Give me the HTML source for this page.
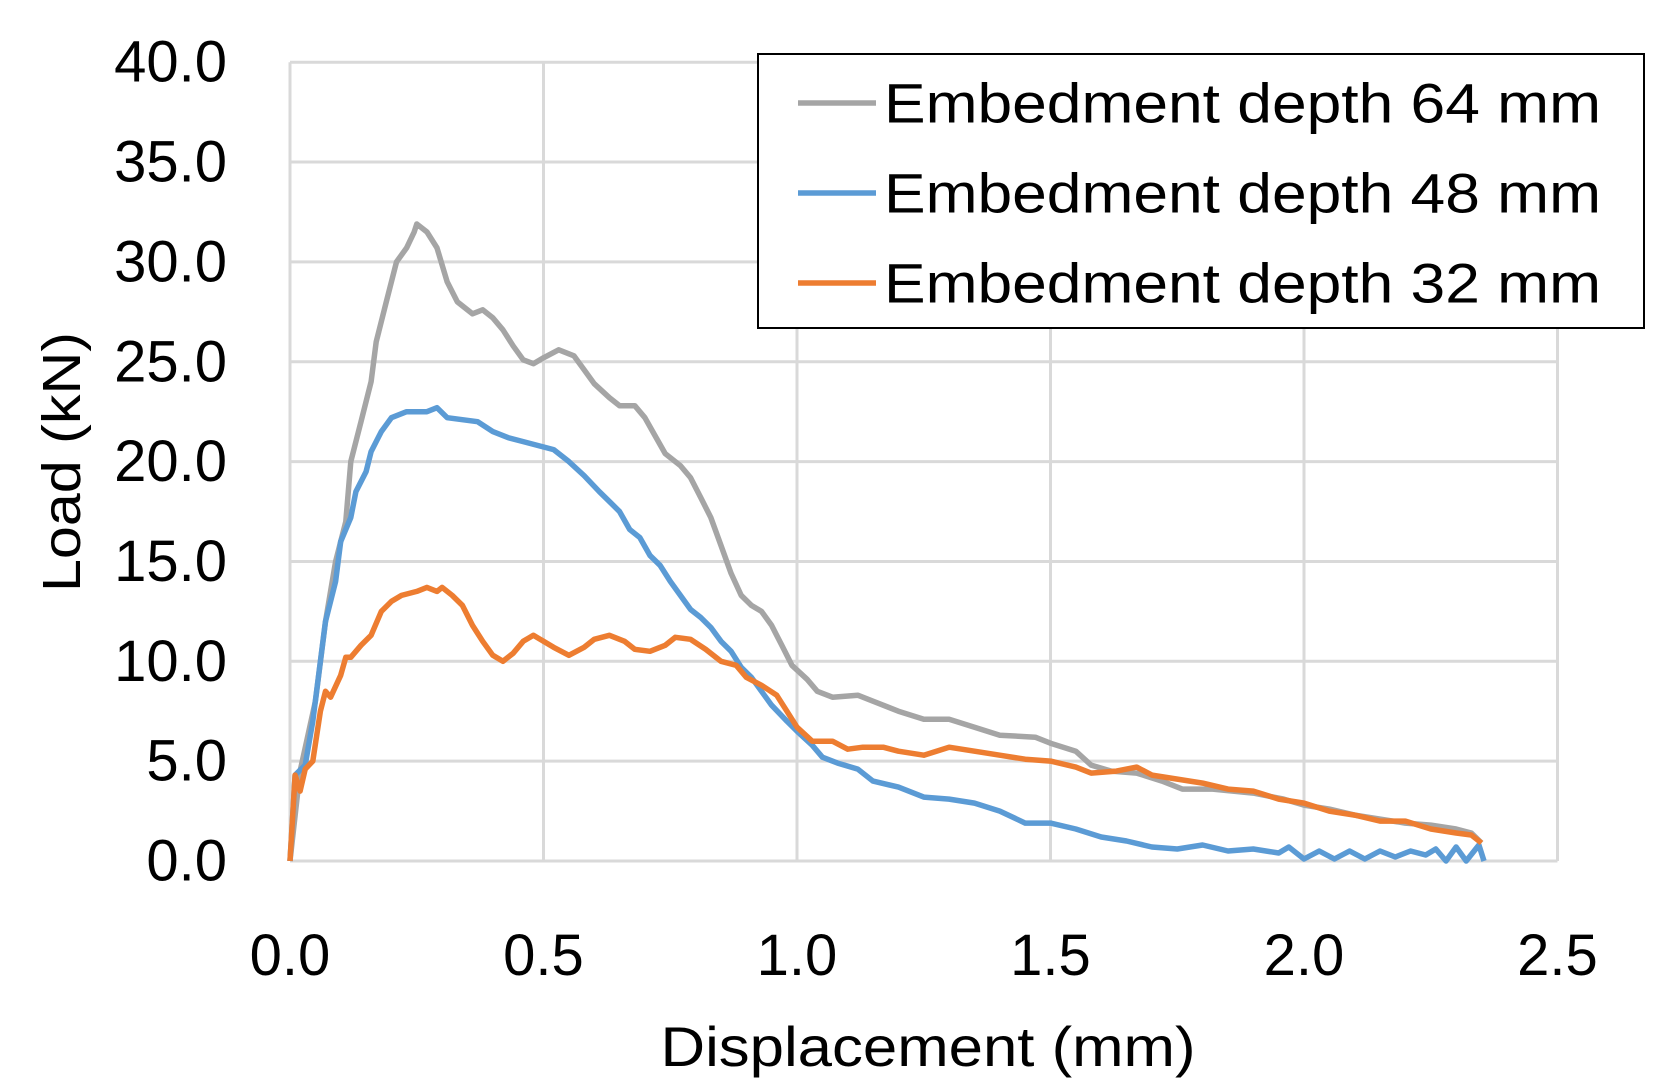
<!DOCTYPE html>
<html><head><meta charset="utf-8"><style>html,body{margin:0;padding:0;background:#fff}svg{display:block}</style></head>
<body>
<svg id="s" width="1665" height="1092" viewBox="0 0 1665 1092" xmlns="http://www.w3.org/2000/svg" font-family="'Liberation Sans', sans-serif">
<g id="grid" stroke="#d9d9d9" stroke-width="3" fill="none"></g>
<g id="ticks" font-size="58" fill="#000"></g>
<g id="series" fill="none" stroke-width="5.5" stroke-linejoin="round"></g>
<rect x="758" y="54" width="886" height="274" fill="#fff" stroke="#000" stroke-width="2"/>
<line x1="798" y1="103" x2="876" y2="103" stroke="#a5a5a5" stroke-width="5.5"/>
<line x1="798" y1="193" x2="876" y2="193" stroke="#5b9bd5" stroke-width="5.5"/>
<line x1="798" y1="283" x2="876" y2="283" stroke="#ed7d31" stroke-width="5.5"/>
<g font-size="56" dominant-baseline="central">
<text x="884" y="103" textLength="717" lengthAdjust="spacingAndGlyphs">Embedment depth 64 mm</text>
<text x="884" y="193" textLength="717" lengthAdjust="spacingAndGlyphs">Embedment depth 48 mm</text>
<text x="884" y="283" textLength="717" lengthAdjust="spacingAndGlyphs">Embedment depth 32 mm</text>
</g>
<text x="928" y="1066" font-size="56" text-anchor="middle" textLength="535" lengthAdjust="spacingAndGlyphs">Displacement (mm)</text>
<text transform="translate(62,462) rotate(-90)" font-size="54" text-anchor="middle" dominant-baseline="central" textLength="260" lengthAdjust="spacingAndGlyphs">Load (kN)</text>
</svg>
<script>
var X0=290,XS=507,Y0=861,YS=19.97;
function px(x){return X0+x*XS}function py(y){return Y0-y*YS}
var g=document.getElementById('grid'),t=document.getElementById('ticks'),ns='http://www.w3.org/2000/svg';
function el(p,n,a){var e=document.createElementNS(ns,n);for(var k in a)e.setAttribute(k,a[k]);p.appendChild(e);return e}
for(var i=0;i<=8;i++){var y=py(i*5);el(g,'line',{x1:X0,x2:px(2.5),y1:y,y2:y});var tx=el(t,'text',{x:227,y:y,'text-anchor':'end','dominant-baseline':'central'});tx.textContent=(i*5).toFixed(1);}
for(var i=0;i<=5;i++){var x=px(i*0.5);el(g,'line',{x1:x,x2:x,y1:py(40),y2:Y0});var tx=el(t,'text',{x:x,y:975,'text-anchor':'middle'});tx.textContent=(i*0.5).toFixed(1);}
var gray=[[0,0],[0.02,4.5],[0.05,8],[0.07,12],[0.09,15],[0.11,17],[0.12,20],[0.14,22],[0.16,24],[0.17,26],[0.19,28],[0.21,30],[0.23,30.7],[0.245,31.5],[0.25,31.9],[0.27,31.5],[0.29,30.7],[0.31,29],[0.33,28],[0.36,27.4],[0.38,27.6],[0.40,27.2],[0.42,26.6],[0.44,25.8],[0.46,25.1],[0.48,24.9],[0.5,25.2],[0.53,25.6],[0.56,25.3],[0.58,24.6],[0.6,23.9],[0.63,23.2],[0.65,22.8],[0.68,22.8],[0.7,22.2],[0.72,21.3],[0.74,20.4],[0.77,19.8],[0.79,19.2],[0.81,18.2],[0.83,17.2],[0.85,15.8],[0.87,14.4],[0.89,13.3],[0.91,12.8],[0.93,12.5],[0.95,11.8],[0.97,10.8],[0.99,9.8],[1.02,9.1],[1.04,8.5],[1.07,8.2],[1.12,8.3],[1.15,8.0],[1.2,7.5],[1.25,7.1],[1.3,7.1],[1.35,6.7],[1.4,6.3],[1.47,6.2],[1.5,5.9],[1.55,5.5],[1.58,4.8],[1.62,4.5],[1.67,4.4],[1.72,4.0],[1.76,3.6],[1.82,3.6],[1.9,3.4],[1.96,3.1],[2.0,2.8],[2.05,2.6],[2.1,2.3],[2.15,2.1],[2.2,1.9],[2.25,1.8],[2.3,1.6],[2.33,1.4],[2.35,0.9]];
var blue=[[0,0],[0.01,4.3],[0.03,4.8],[0.045,7],[0.06,10],[0.07,12],[0.09,14],[0.1,16],[0.12,17.2],[0.13,18.5],[0.15,19.5],[0.16,20.5],[0.18,21.5],[0.2,22.2],[0.23,22.5],[0.27,22.5],[0.29,22.7],[0.31,22.2],[0.34,22.1],[0.37,22.0],[0.4,21.5],[0.43,21.2],[0.46,21.0],[0.49,20.8],[0.52,20.6],[0.55,20.0],[0.58,19.3],[0.61,18.5],[0.63,18.0],[0.65,17.5],[0.67,16.6],[0.69,16.2],[0.71,15.3],[0.73,14.8],[0.75,14.0],[0.77,13.3],[0.79,12.6],[0.81,12.2],[0.83,11.7],[0.85,11.0],[0.87,10.5],[0.89,9.7],[0.91,9.2],[0.93,8.5],[0.95,7.8],[0.98,7.0],[1.0,6.5],[1.03,5.8],[1.05,5.2],[1.08,4.9],[1.12,4.6],[1.15,4.0],[1.2,3.7],[1.25,3.2],[1.3,3.1],[1.35,2.9],[1.4,2.5],[1.45,1.9],[1.5,1.9],[1.55,1.6],[1.6,1.2],[1.65,1.0],[1.7,0.7],[1.75,0.6],[1.8,0.8],[1.85,0.5],[1.9,0.6],[1.95,0.4],[1.97,0.7],[2.0,0.1],[2.03,0.5],[2.06,0.1],[2.09,0.5],[2.12,0.1],[2.15,0.5],[2.18,0.2],[2.21,0.5],[2.24,0.3],[2.26,0.6],[2.28,0],[2.3,0.7],[2.32,0],[2.345,0.8],[2.355,0]];
var orange=[[0,0],[0.01,4.3],[0.02,3.5],[0.03,4.6],[0.045,5],[0.06,7.5],[0.07,8.5],[0.08,8.2],[0.1,9.3],[0.11,10.2],[0.12,10.2],[0.14,10.8],[0.16,11.3],[0.18,12.5],[0.2,13],[0.22,13.3],[0.25,13.5],[0.27,13.7],[0.29,13.5],[0.3,13.7],[0.32,13.3],[0.34,12.8],[0.36,11.8],[0.38,11],[0.4,10.3],[0.42,10.0],[0.44,10.4],[0.46,11.0],[0.48,11.3],[0.5,11.0],[0.52,10.7],[0.55,10.3],[0.58,10.7],[0.6,11.1],[0.63,11.3],[0.66,11.0],[0.68,10.6],[0.71,10.5],[0.74,10.8],[0.76,11.2],[0.79,11.1],[0.82,10.6],[0.85,10.0],[0.88,9.8],[0.9,9.2],[0.93,8.8],[0.96,8.3],[0.98,7.5],[1.0,6.7],[1.03,6.0],[1.07,6.0],[1.1,5.6],[1.13,5.7],[1.17,5.7],[1.2,5.5],[1.25,5.3],[1.3,5.7],[1.35,5.5],[1.4,5.3],[1.45,5.1],[1.5,5.0],[1.55,4.7],[1.58,4.4],[1.63,4.5],[1.67,4.7],[1.7,4.3],[1.75,4.1],[1.8,3.9],[1.85,3.6],[1.9,3.5],[1.95,3.1],[2.0,2.9],[2.05,2.5],[2.1,2.3],[2.15,2.0],[2.2,2.0],[2.25,1.6],[2.3,1.4],[2.33,1.3],[2.35,0.9]];
var s=document.getElementById('series');
[[gray,'#a5a5a5'],[blue,'#5b9bd5'],[orange,'#ed7d31']].forEach(function(a){el(s,'polyline',{points:a[0].map(function(p){return px(p[0]).toFixed(1)+','+py(p[1]).toFixed(1)}).join(' '),stroke:a[1]})});
</script>
</body></html>
